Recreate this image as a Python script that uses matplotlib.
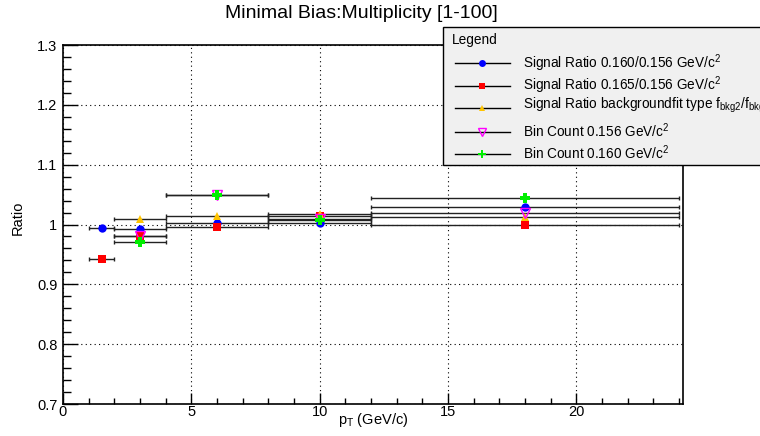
import numpy as np
import matplotlib.pyplot as plt
from matplotlib.lines import Line2D
from matplotlib.patches import Rectangle
from matplotlib.ticker import MultipleLocator

plt.rcParams['font.family'] = ['Liberation Sans', 'DejaVu Sans']
plt.rcParams['mathtext.fontset'] = 'custom'
plt.rcParams['mathtext.rm'] = 'Liberation Sans'
plt.rcParams['mathtext.it'] = 'Liberation Sans'
plt.rcParams['mathtext.bf'] = 'Liberation Sans:bold'

# bin centres and half widths in pT (GeV/c)
pt = np.array([1.5, 3, 6, 10, 18])
pt_err = np.array([0.5, 1, 2, 2, 6])

sig_160 = [0.994, 0.993, 1.002, 1.003, 1.030]
sig_165 = [0.942, 0.981, 0.996, 1.015, 1.000]
bkg_fit = [1.010, 1.015, 1.018, 1.012]      # starts at 2nd bin
bin_156 = [0.981, 1.049, 1.010, 1.020]      # starts at 2nd bin
bin_160 = [0.970, 1.049, 1.008, 1.044]      # starts at 2nd bin

labels = ['Signal Ratio 0.160/0.156 GeV/c$^{2}$',
          'Signal Ratio 0.165/0.156 GeV/c$^{2}$',
          'Signal Ratio backgroundfit type f$_{bkg2}$/f$_{bkg1}$',
          'Bin Count 0.156 GeV/c$^{2}$',
          'Bin Count 0.160 GeV/c$^{2}$']

W, H = 760, 436
fig = plt.figure(figsize=(W / 100, H / 100), dpi=100)
ax = fig.add_axes([63/W, 1-404/H, 620/W, 359/H])

styles = [
    dict(marker='o', color='#0000ff', mfc='#0000ff', ms=6, mew=0),
    dict(marker='s', color='#ff0000', mfc='#ff0000', ms=6, mew=0),
    dict(marker='^', color='#ffc400', mfc='#ffc400', ms=6, mew=0),
    dict(marker='v', color='#ff00ff', mfc='none', ms=6.5, mew=1),
    dict(marker='P', color='#00ee00', mfc='#00ee00', ms=7, mew=0),
]
data = [(pt, pt_err, sig_160), (pt, pt_err, sig_165), (pt[1:], pt_err[1:], bkg_fit),
        (pt[1:], pt_err[1:], bin_156), (pt[1:], pt_err[1:], bin_160)]

for (x, xe, y), st in zip(data, styles):
    ax.errorbar(x, y, xerr=xe, fmt='none', ecolor='#222222', elinewidth=1, capsize=1.5, capthick=1, zorder=2)
    ax.plot(x, y, linestyle='none', marker=st['marker'], mfc=st['mfc'], mec=st['color'],
            ms=st['ms'], mew=st['mew'], zorder=3)

ax.set_xlim(0, 24.15)
ax.set_ylim(0.7, 1.3)
ax.xaxis.set_major_locator(MultipleLocator(5))
ax.xaxis.set_minor_locator(MultipleLocator(1))
ax.yaxis.set_minor_locator(MultipleLocator(0.02))
ax.set_yticks(np.arange(0.7, 1.31, 0.1))
ax.set_yticklabels(['0.7', '0.8', '0.9', '1', '1.1', '1.2', '1.3'])
ax.tick_params(which='both', direction='in', top=False, right=False, labelsize=10.5, width=1)
ax.tick_params(axis='x', which='major', length=8, pad=1)
ax.tick_params(axis='x', which='minor', length=4)
ax.tick_params(axis='y', which='major', length=11, pad=4)
ax.tick_params(axis='y', which='minor', length=5.5)
ax.grid(True, which='major', color='black', linestyle=(0, (1, 3)), linewidth=0.8)
for s in ax.spines.values():
    s.set_linewidth(1.2)

ax.set_xlabel('p$_{T}$ (GeV/c)', fontsize=10.5)
ax.xaxis.set_label_coords(0.5, -0.02, transform=ax.transAxes)
ax.xaxis.label.set_va('top')
ax.set_ylabel('Ratio', fontsize=10.5)
ax.yaxis.set_label_coords(-0.062, 0.52)

fig.text(361/W, 1-13/H, 'Minimal Bias:Multiplicity [1-100]', fontsize=14, ha='center', va='center')

# ROOT-style legend box, running off the right edge of the canvas
fig.add_artist(Rectangle((443/W, 1-165/H), 400/W, 138/H, transform=fig.transFigure,
                         facecolor='#f0f0f0', edgecolor='black', lw=1, zorder=5))
fig.text(452/W, 1-40/H, 'Legend', fontsize=9.8, ha='left', va='center', zorder=7)
rows = [63, 86, 108, 132, 154]
text_shift = [4.5, 4.5, 0.5, 4.5, 4.5]
for lab, st, ry, dy in zip(labels, styles, rows, text_shift):
    yf = 1 - ry / H
    fig.add_artist(Line2D([455/W, 510/W], [yf, yf], transform=fig.transFigure,
                          color='black', lw=1, zorder=6))
    fig.add_artist(Line2D([482/W], [yf], transform=fig.transFigure, linestyle='none',
                          marker=st['marker'], mfc=st['mfc'], mec=st['color'],
                          ms=st['ms'] - 1, mew=st['mew'], zorder=7))
    fig.text(523/W, 1 - (ry + dy) / H, lab, fontsize=9.8, ha='left', va='baseline', zorder=7)

fig.savefig('out.png', dpi=100)
